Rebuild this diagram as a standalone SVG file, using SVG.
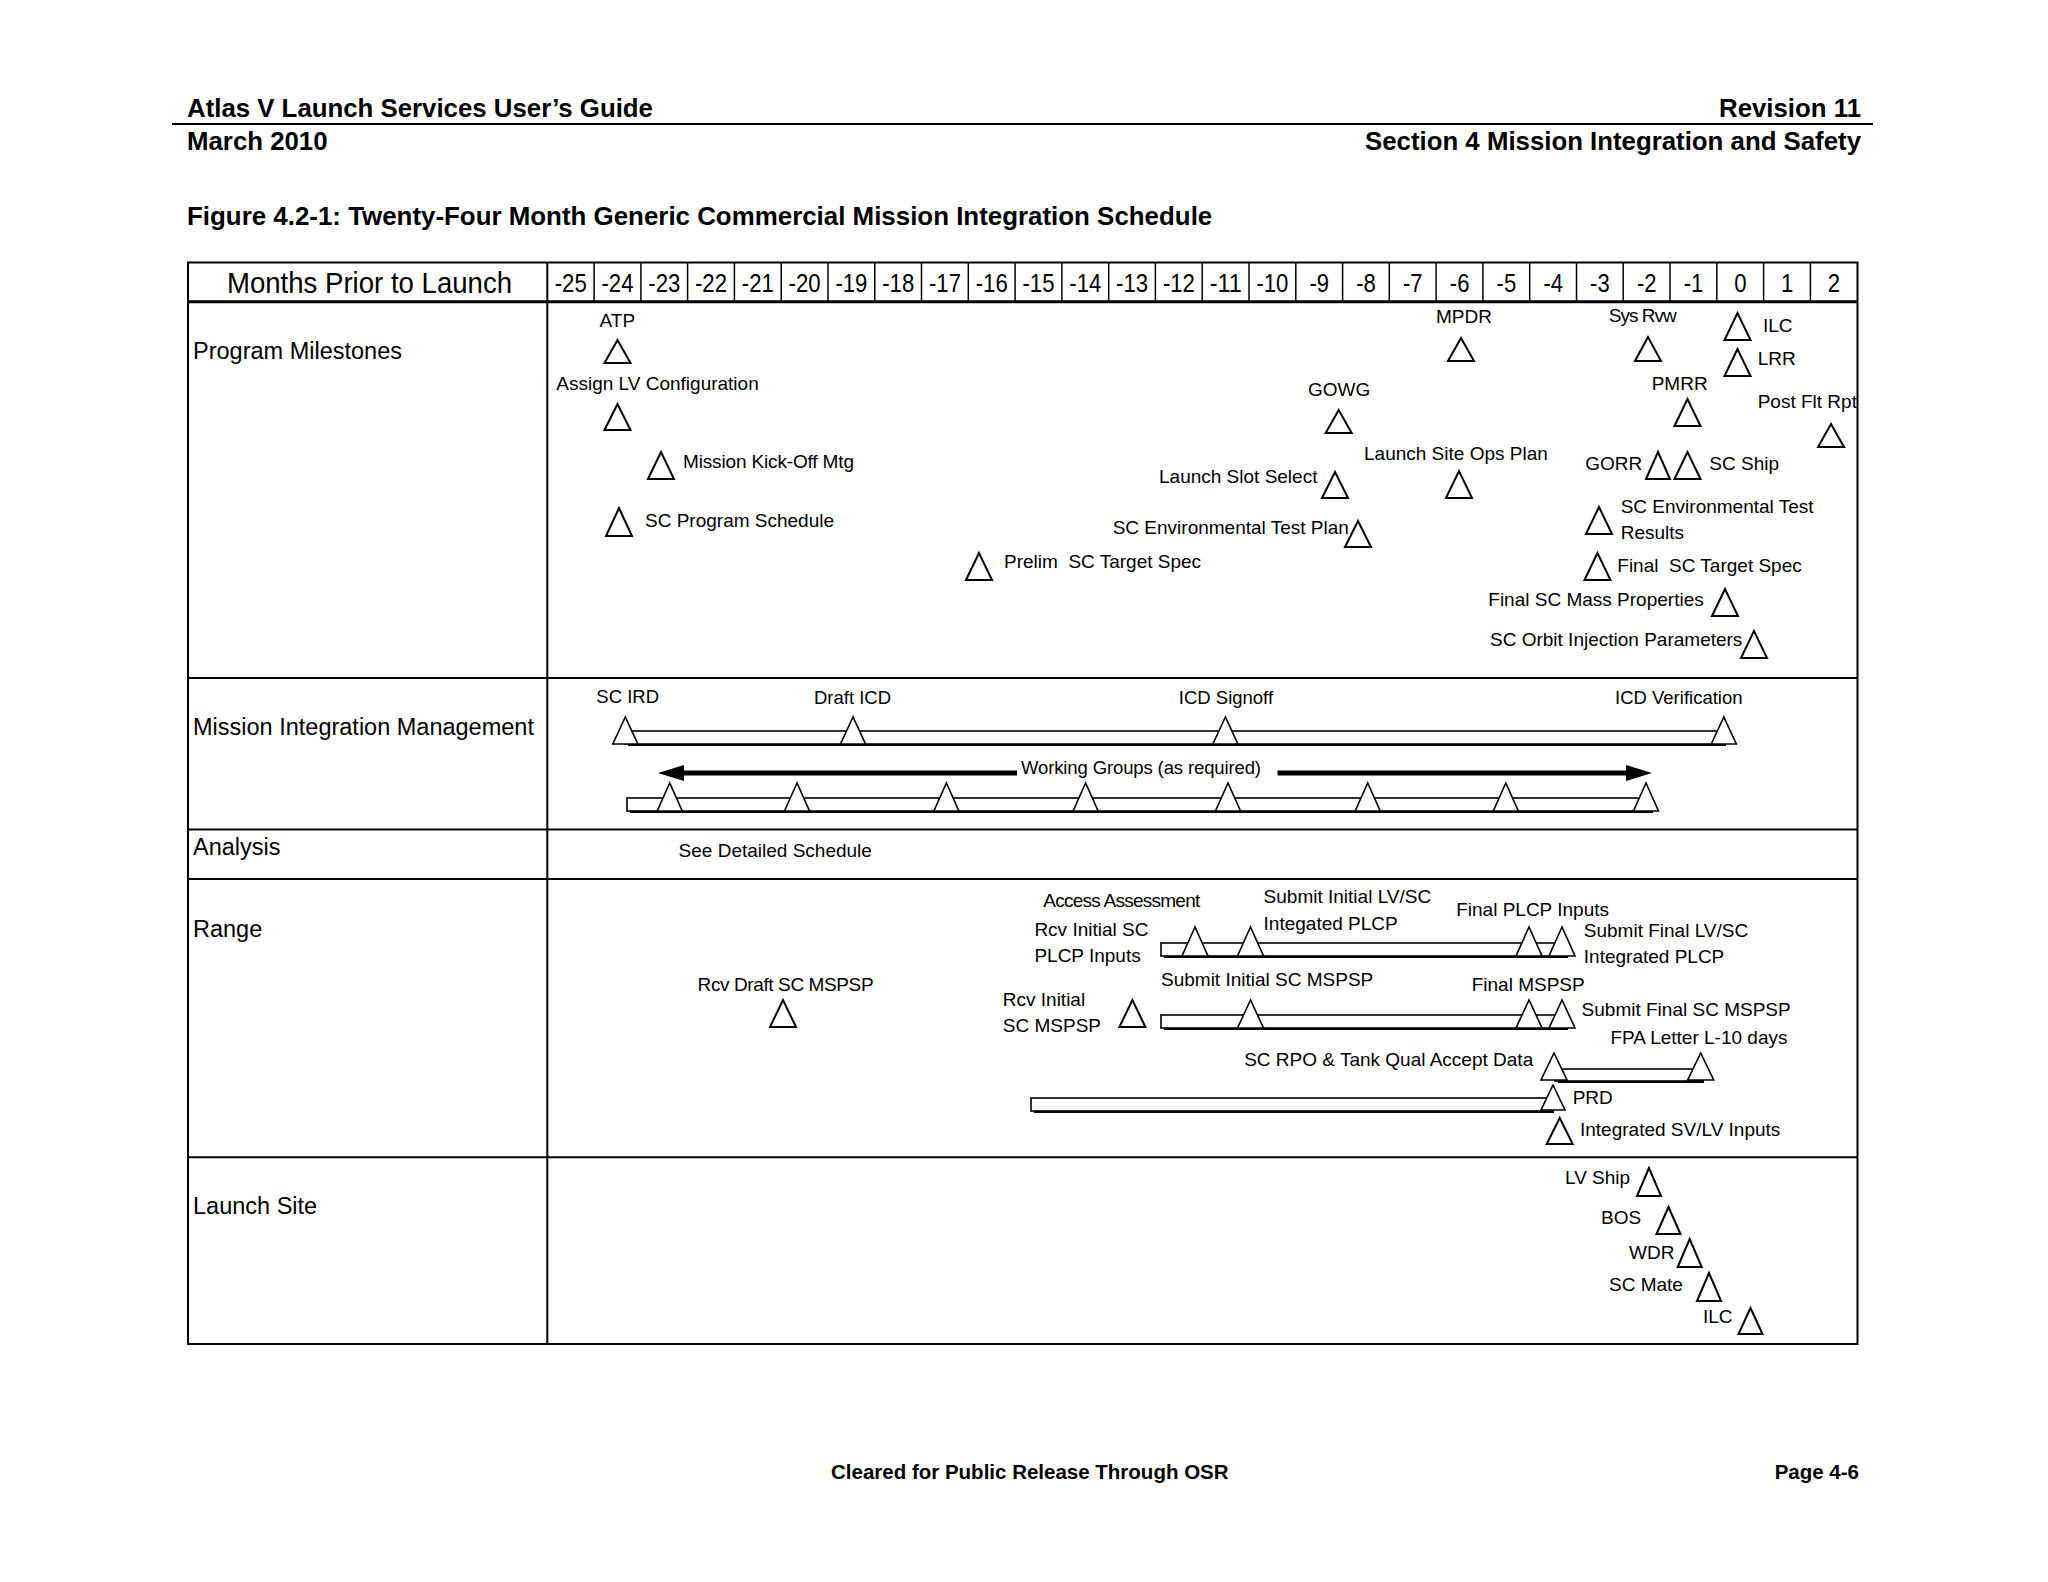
<svg xmlns="http://www.w3.org/2000/svg" width="2048" height="1582" viewBox="0 0 2048 1582">
<style>
text{font-family:"Liberation Sans",Arial,sans-serif;fill:#000}
.h{font-weight:bold;font-size:25.8px}
.ti{font-weight:bold;font-size:25.9px}
.f{font-weight:bold;font-size:20.5px}
.rl{font-size:23.5px}
.m{font-size:26px;text-anchor:middle}
.s{font-size:19px}
.sm{font-size:18.5px}
.tri{fill:#fff;stroke:#000;stroke-width:2}
.trb{fill:#fff;stroke:#000;stroke-width:1.6}
.bar{fill:#fff;stroke:#000;stroke-width:1.6}
.sh{fill:none;stroke:#000;stroke-width:2}
.grid{fill:none;stroke:#000;stroke-width:2}
.thin{stroke:#000;stroke-width:1.5}
.arr{stroke:#000;stroke-width:5}
</style>
<defs>
<marker id="ah" markerUnits="userSpaceOnUse" markerWidth="26" markerHeight="16" viewBox="0 0 26 16" refX="0" refY="8" orient="auto">
<path d="M0,0 L26,8 L0,16 z" fill="#000"/>
</marker>
</defs>
<rect width="2048" height="1582" fill="#fff"/>

<g id="page-header">
<text class="h" x="187" y="117">Atlas V Launch Services User’s Guide</text>
<text class="h" x="1861" y="117" text-anchor="end">Revision 11</text>
<line x1="172" y1="124" x2="1873" y2="124" stroke="#000" stroke-width="2"/>
<text class="h" x="187" y="150">March 2010</text>
<text class="h" x="1861" y="150" text-anchor="end">Section 4 Mission Integration and Safety</text>
<text class="ti" x="187" y="225">Figure 4.2-1: Twenty-Four Month Generic Commercial Mission Integration Schedule</text>
</g>

<g id="table">
<rect class="grid" x="188" y="262.5" width="1669.5" height="1081.5"/>
<line x1="188" y1="301.7" x2="1857.5" y2="301.7" stroke="#000" stroke-width="3"/>
<line class="grid" x1="188" y1="678" x2="1857.5" y2="678"/>
<line class="grid" x1="188" y1="829.5" x2="1857.5" y2="829.5"/>
<line class="grid" x1="188" y1="879" x2="1857.5" y2="879"/>
<line class="grid" x1="188" y1="1157.3" x2="1857.5" y2="1157.3"/>
<line class="grid" x1="547.3" y1="262.5" x2="547.3" y2="1344"/>
<g class="thin">
<line x1="594.1" y1="262.5" x2="594.1" y2="301.7"/><line x1="640.9" y1="262.5" x2="640.9" y2="301.7"/><line x1="687.6" y1="262.5" x2="687.6" y2="301.7"/><line x1="734.4" y1="262.5" x2="734.4" y2="301.7"/><line x1="781.2" y1="262.5" x2="781.2" y2="301.7"/><line x1="828" y1="262.5" x2="828" y2="301.7"/><line x1="874.8" y1="262.5" x2="874.8" y2="301.7"/><line x1="921.5" y1="262.5" x2="921.5" y2="301.7"/><line x1="968.3" y1="262.5" x2="968.3" y2="301.7"/><line x1="1015.1" y1="262.5" x2="1015.1" y2="301.7"/><line x1="1061.9" y1="262.5" x2="1061.9" y2="301.7"/><line x1="1108.7" y1="262.5" x2="1108.7" y2="301.7"/><line x1="1155.4" y1="262.5" x2="1155.4" y2="301.7"/><line x1="1202.2" y1="262.5" x2="1202.2" y2="301.7"/><line x1="1249" y1="262.5" x2="1249" y2="301.7"/><line x1="1295.8" y1="262.5" x2="1295.8" y2="301.7"/><line x1="1342.6" y1="262.5" x2="1342.6" y2="301.7"/><line x1="1389.3" y1="262.5" x2="1389.3" y2="301.7"/><line x1="1436.1" y1="262.5" x2="1436.1" y2="301.7"/><line x1="1482.9" y1="262.5" x2="1482.9" y2="301.7"/><line x1="1529.7" y1="262.5" x2="1529.7" y2="301.7"/><line x1="1576.5" y1="262.5" x2="1576.5" y2="301.7"/><line x1="1623.2" y1="262.5" x2="1623.2" y2="301.7"/><line x1="1670" y1="262.5" x2="1670" y2="301.7"/><line x1="1716.8" y1="262.5" x2="1716.8" y2="301.7"/><line x1="1763.6" y1="262.5" x2="1763.6" y2="301.7"/><line x1="1810.4" y1="262.5" x2="1810.4" y2="301.7"/>
</g>
<text x="369.5" y="293" font-size="30" text-anchor="middle" textLength="285" lengthAdjust="spacingAndGlyphs">Months Prior to Launch</text>
<g id="months">
<text class="m" x="570.7" y="292" textLength="32" lengthAdjust="spacingAndGlyphs">-25</text>
<text class="m" x="617.5" y="292" textLength="32" lengthAdjust="spacingAndGlyphs">-24</text>
<text class="m" x="664.3" y="292" textLength="32" lengthAdjust="spacingAndGlyphs">-23</text>
<text class="m" x="711" y="292" textLength="32" lengthAdjust="spacingAndGlyphs">-22</text>
<text class="m" x="757.8" y="292" textLength="32" lengthAdjust="spacingAndGlyphs">-21</text>
<text class="m" x="804.6" y="292" textLength="32" lengthAdjust="spacingAndGlyphs">-20</text>
<text class="m" x="851.4" y="292" textLength="32" lengthAdjust="spacingAndGlyphs">-19</text>
<text class="m" x="898.2" y="292" textLength="32" lengthAdjust="spacingAndGlyphs">-18</text>
<text class="m" x="945" y="292" textLength="32" lengthAdjust="spacingAndGlyphs">-17</text>
<text class="m" x="991.7" y="292" textLength="32" lengthAdjust="spacingAndGlyphs">-16</text>
<text class="m" x="1038.5" y="292" textLength="32" lengthAdjust="spacingAndGlyphs">-15</text>
<text class="m" x="1085.3" y="292" textLength="32" lengthAdjust="spacingAndGlyphs">-14</text>
<text class="m" x="1132.1" y="292" textLength="32" lengthAdjust="spacingAndGlyphs">-13</text>
<text class="m" x="1178.9" y="292" textLength="32" lengthAdjust="spacingAndGlyphs">-12</text>
<text class="m" x="1225.7" y="292" textLength="32" lengthAdjust="spacingAndGlyphs">-11</text>
<text class="m" x="1272.4" y="292" textLength="32" lengthAdjust="spacingAndGlyphs">-10</text>
<text class="m" x="1319.2" y="292" textLength="19.6" lengthAdjust="spacingAndGlyphs">-9</text>
<text class="m" x="1366" y="292" textLength="19.6" lengthAdjust="spacingAndGlyphs">-8</text>
<text class="m" x="1412.8" y="292" textLength="19.6" lengthAdjust="spacingAndGlyphs">-7</text>
<text class="m" x="1459.6" y="292" textLength="19.6" lengthAdjust="spacingAndGlyphs">-6</text>
<text class="m" x="1506.4" y="292" textLength="19.6" lengthAdjust="spacingAndGlyphs">-5</text>
<text class="m" x="1553.2" y="292" textLength="19.6" lengthAdjust="spacingAndGlyphs">-4</text>
<text class="m" x="1599.9" y="292" textLength="19.6" lengthAdjust="spacingAndGlyphs">-3</text>
<text class="m" x="1646.7" y="292" textLength="19.6" lengthAdjust="spacingAndGlyphs">-2</text>
<text class="m" x="1693.5" y="292" textLength="19.6" lengthAdjust="spacingAndGlyphs">-1</text>
<text class="m" x="1740.3" y="292" textLength="12.3" lengthAdjust="spacingAndGlyphs">0</text>
<text class="m" x="1787.1" y="292" textLength="12.3" lengthAdjust="spacingAndGlyphs">1</text>
<text class="m" x="1833.9" y="292" textLength="12.3" lengthAdjust="spacingAndGlyphs">2</text>
</g>
<text class="rl" x="193" y="359">Program Milestones</text>
<text class="rl" x="193" y="735">Mission Integration Management</text>
<text class="rl" x="193" y="855">Analysis</text>
<text class="rl" x="193" y="937">Range</text>
<text class="rl" x="193" y="1214">Launch Site</text>
</g>

<g id="connectors">
<rect class="bar" x="625" y="731" width="1099" height="13"/>
<path class="sh" d="M628,745 H1725 V733"/>
<rect class="bar" x="627" y="798" width="1024" height="13"/>
<path class="sh" d="M630,812 H1652 V800"/>
<line class="arr" x1="1017" y1="773" x2="684" y2="773" marker-end="url(#ah)"/>
<line class="arr" x1="1277.5" y1="773" x2="1626" y2="773" marker-end="url(#ah)"/>
<rect class="bar" x="1161" y="943" width="405" height="13"/>
<path class="sh" d="M1164,957 H1567 V945"/>
<rect class="bar" x="1161" y="1015" width="405" height="13"/>
<path class="sh" d="M1164,1029 H1567 V1017"/>
<rect class="bar" x="1555" y="1069" width="147" height="12"/>
<path class="sh" d="M1558,1082 H1703 V1071"/>
<rect class="bar" x="1031" y="1098" width="521" height="13"/>
<path class="sh" d="M1034,1112 H1553 V1100"/>
</g>

<g id="program-milestones">
<g id="ms-atp"><polygon class="tri" points="617.5,340 604.5,363 630.5,363"/><text class="s" x="599.6" y="327">ATP</text></g>
<g id="ms-assign-lv"><polygon class="tri" points="617.5,404 604.5,430 630.5,430"/><text class="s" x="556.3" y="390">Assign LV Configuration</text></g>
<g id="ms-kickoff"><polygon class="tri" points="661,452 648,479 674,479"/><text class="s" x="683" y="468" textLength="171" lengthAdjust="spacing">Mission Kick-Off Mtg</text></g>
<g id="ms-sc-prog-sched"><polygon class="tri" points="619,508 606,536 632,536"/><text class="s" x="645" y="527">SC Program Schedule</text></g>
<g id="ms-prelim-target"><polygon class="tri" points="979,553 966,580 992,580"/><text class="s" x="1004" y="568" xml:space="preserve">Prelim  SC Target Spec</text></g>
<g id="ms-gowg"><polygon class="tri" points="1338.7,410 1325.7,433 1351.7,433"/><text class="s" x="1308" y="396">GOWG</text></g>
<g id="ms-launch-slot"><polygon class="tri" points="1335,472 1322,498 1348,498"/><text class="s" x="1159" y="483">Launch Slot Select</text></g>
<g id="ms-env-test-plan"><polygon class="tri" points="1358,521 1345,547 1371,547"/><text class="s" x="1112.7" y="534">SC Environmental Test Plan</text></g>
<g id="ms-mpdr"><polygon class="tri" points="1461,338 1448,361 1474,361"/><text class="s" x="1436" y="323">MPDR</text></g>
<g id="ms-lsop"><polygon class="tri" points="1459,471 1446,498 1472,498"/><text class="s" x="1364" y="460">Launch Site Ops Plan</text></g>
<g id="ms-sys-rvw"><polygon class="tri" points="1648,337 1635,361 1661,361"/><text class="s" x="1608.7" y="321.5" textLength="68" lengthAdjust="spacing">Sys Rvw</text></g>
<g id="ms-ilc"><polygon class="tri" points="1737.5,313 1724.5,340 1750.5,340"/><text class="s" x="1763" y="332">ILC</text></g>
<g id="ms-lrr"><polygon class="tri" points="1737.5,349 1724.5,376 1750.5,376"/><text class="s" x="1757.7" y="365">LRR</text></g>
<g id="ms-pmrr"><polygon class="tri" points="1687.5,399 1674.5,426 1700.5,426"/><text class="s" x="1651.7" y="390">PMRR</text></g>
<g id="ms-post-flt"><polygon class="tri" points="1831,424 1818,447 1844,447"/><text class="s" x="1757.7" y="408">Post Flt Rpt</text></g>
<g id="ms-gorr"><polygon class="tri" points="1658,452 1646,479 1670,479"/><text class="s" x="1585.3" y="470">GORR</text></g>
<g id="ms-sc-ship"><polygon class="tri" points="1687.5,452 1674.5,479 1700.5,479"/><text class="s" x="1709.3" y="470">SC Ship</text></g>
<g id="ms-env-test-results"><polygon class="tri" points="1599,507 1586,534 1612,534"/><text class="s" x="1620.7" y="513">SC Environmental Test</text><text class="s" x="1620.7" y="539">Results</text></g>
<g id="ms-final-target"><polygon class="tri" points="1597.5,553 1584.5,580 1610.5,580"/><text class="s" x="1617.3" y="571.5" xml:space="preserve">Final  SC Target Spec</text></g>
<g id="ms-mass-props"><polygon class="tri" points="1725,589 1712,616 1738,616"/><text class="s" x="1488.3" y="606">Final SC Mass Properties</text></g>
<g id="ms-orbit-inj"><polygon class="tri" points="1754,631 1741,658 1767,658"/><text class="s" x="1490" y="645.5">SC Orbit Injection Parameters</text></g>
</g>

<g id="mission-integration">
<g id="mi-sc-ird"><polygon class="trb" points="625.3,717 612.8,744 637.8,744"/><text class="sm" x="596.3" y="703">SC IRD</text></g>
<g id="mi-draft-icd"><polygon class="trb" points="853,717 840.5,744 865.5,744"/><text class="sm" x="814" y="704">Draft ICD</text></g>
<g id="mi-icd-signoff"><polygon class="trb" points="1225.4,717 1212.9,744 1237.9,744"/><text class="sm" x="1178.8" y="704">ICD Signoff</text></g>
<g id="mi-icd-verif"><polygon class="trb" points="1723.8,717 1711.3,744 1736.3,744"/><text class="sm" x="1615" y="704">ICD Verification</text></g>
<g id="mi-working-groups"><text class="sm" x="1021" y="774" textLength="240" lengthAdjust="spacing">Working Groups (as required)</text></g>
<g id="mi-wg-1"><polygon class="trb" points="669.7,783 657.2,811 682.2,811"/></g>
<g id="mi-wg-2"><polygon class="trb" points="797,783 784.5,811 809.5,811"/></g>
<g id="mi-wg-3"><polygon class="trb" points="946.4,783 933.9,811 958.9,811"/></g>
<g id="mi-wg-4"><polygon class="trb" points="1085.6,783 1073.1,811 1098.1,811"/></g>
<g id="mi-wg-5"><polygon class="trb" points="1228,783 1215.5,811 1240.5,811"/></g>
<g id="mi-wg-6"><polygon class="trb" points="1367.7,783 1355.2,811 1380.2,811"/></g>
<g id="mi-wg-7"><polygon class="trb" points="1505.8,783 1493.3,811 1518.3,811"/></g>
<g id="mi-wg-8"><polygon class="trb" points="1646,783 1633.5,811 1658.5,811"/></g>
</g>

<g id="analysis">
<text class="s" x="678.6" y="857">See Detailed Schedule</text>
</g>

<g id="range">
<g id="r-access"><polygon class="trb" points="1195,927 1182,956 1208,956"/><text class="s" x="1043.3" y="907" textLength="157" lengthAdjust="spacing">Access Assessment</text><text class="s" x="1034.4" y="935.5">Rcv Initial SC</text><text class="s" x="1034.4" y="962">PLCP Inputs</text></g>
<g id="r-submit-init-plcp"><polygon class="trb" points="1250.5,927 1237.5,956 1263.5,956"/><text class="s" x="1263.6" y="903">Submit Initial LV/SC</text><text class="s" x="1263.6" y="930">Integated PLCP</text></g>
<g id="r-final-plcp"><polygon class="trb" points="1529,927 1516,956 1542,956"/><text class="s" x="1456.2" y="915.5">Final PLCP Inputs</text></g>
<g id="r-submit-final-plcp"><polygon class="trb" points="1562,927 1549,956 1575,956"/><text class="s" x="1583.8" y="937">Submit Final LV/SC</text><text class="s" x="1583.8" y="963">Integrated PLCP</text></g>
<g id="r-draft-mspsp"><polygon class="tri" points="783,1000 770,1027 796,1027"/><text class="s" x="697.6" y="991" textLength="176" lengthAdjust="spacing">Rcv Draft SC MSPSP</text></g>
<g id="r-rcv-init-mspsp"><polygon class="tri" points="1132.4,1000 1119.4,1027 1145.4,1027"/><text class="s" x="1002.8" y="1006">Rcv Initial</text><text class="s" x="1002.8" y="1032">SC MSPSP</text></g>
<g id="r-submit-init-mspsp"><polygon class="trb" points="1250.5,1000 1237.5,1028 1263.5,1028"/><text class="s" x="1161" y="986">Submit Initial SC MSPSP</text></g>
<g id="r-final-mspsp"><polygon class="trb" points="1529,1000 1516,1028 1542,1028"/><text class="s" x="1471.7" y="991">Final MSPSP</text></g>
<g id="r-submit-final-mspsp"><polygon class="trb" points="1562,1000 1549,1028 1575,1028"/><text class="s" x="1581.6" y="1016">Submit Final SC MSPSP</text></g>
<g id="r-rpo-tank"><polygon class="trb" points="1554,1053 1541,1080 1567,1080"/><text class="s" x="1244.2" y="1065.5">SC RPO &amp; Tank Qual Accept Data</text></g>
<g id="r-fpa"><polygon class="trb" points="1700.7,1053 1687.7,1080 1713.7,1080"/><text class="s" x="1610.4" y="1044">FPA Letter L-10 days</text></g>
<g id="r-prd"><polygon class="trb" points="1553,1085 1541,1110 1565,1110"/><text class="s" x="1572.7" y="1103.5">PRD</text></g>
<g id="r-integrated-svlv"><polygon class="tri" points="1559.7,1118 1546.7,1144 1572.7,1144"/><text class="s" x="1580" y="1136">Integrated SV/LV Inputs</text></g>
</g>

<g id="launch-site">
<g id="ls-lv-ship"><polygon class="tri" points="1649,1168 1637,1196 1661,1196"/><text class="s" x="1565" y="1184">LV Ship</text></g>
<g id="ls-bos"><polygon class="tri" points="1668.5,1207 1656.5,1234 1680.5,1234"/><text class="s" x="1601" y="1224">BOS</text></g>
<g id="ls-wdr"><polygon class="tri" points="1689.7,1239 1677.7,1267 1701.7,1267"/><text class="s" x="1629" y="1258.5">WDR</text></g>
<g id="ls-sc-mate"><polygon class="tri" points="1709,1273 1697,1301 1721,1301"/><text class="s" x="1609" y="1291">SC Mate</text></g>
<g id="ls-ilc"><polygon class="tri" points="1750.5,1308 1738.5,1334 1762.5,1334"/><text class="s" x="1703" y="1323">ILC</text></g>
</g>

<g id="page-footer">
<text class="f" x="831" y="1479">Cleared for Public Release Through OSR</text>
<text class="f" x="1859" y="1479" text-anchor="end">Page 4-6</text>
</g>
</svg>
